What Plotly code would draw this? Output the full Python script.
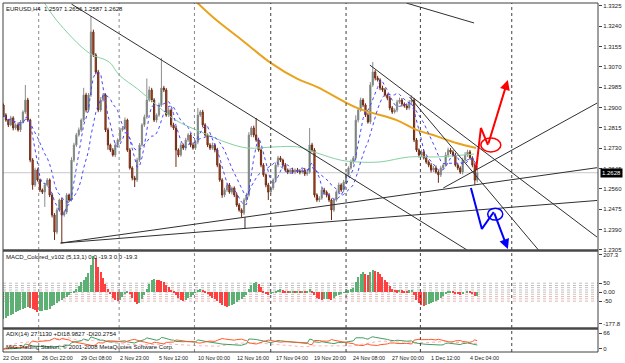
import numpy as np
import pandas as pd
import plotly.graph_objects as go

# ---------------- data ----------------
first_open = 1.2911
closes = [
1.2869,1.2848,1.2828,1.2857,1.2815,1.2828,1.2807,1.2840,1.2882,1.2932,
1.2848,1.2681,1.2577,1.2639,1.2598,1.2556,1.2547,1.2577,1.2598,1.2535,
1.2451,1.2380,1.2472,1.2514,1.2451,1.2464,1.2535,1.2514,1.2681,1.2744,
1.2786,1.2807,1.2848,1.2953,1.2890,1.2953,1.3216,1.3120,1.3049,1.2890,
1.2932,1.2953,1.2807,1.2744,1.2723,1.2702,1.2744,1.2765,1.2807,1.2815,
1.2848,1.2723,1.2648,1.2606,1.2598,1.2681,1.2744,1.2828,1.2861,1.2932,
1.2974,1.2932,1.2848,1.2869,1.2911,1.2982,1.2974,1.2869,1.2890,1.2828,
1.2815,1.2723,1.2702,1.2744,1.2731,1.2765,1.2786,1.2744,1.2731,1.2756,
1.2869,1.2882,1.2828,1.2786,1.2744,1.2731,1.2744,1.2723,1.2660,1.2598,
1.2535,1.2556,1.2577,1.2547,1.2564,1.2535,1.2493,1.2472,1.2460,1.2514,
1.2535,1.2786,1.2815,1.2786,1.2765,1.2723,1.2660,1.2619,1.2577,1.2547,
1.2564,1.2598,1.2660,1.2690,1.2681,1.2660,1.2639,1.2631,1.2639,1.2631,
1.2639,1.2635,1.2631,1.2639,1.2623,1.2631,1.2744,1.2723,1.2535,1.2514,
1.2522,1.2556,1.2547,1.2535,1.2514,1.2472,1.2514,1.2547,1.2577,1.2556,
1.2589,1.2619,1.2648,1.2673,1.2690,1.2848,1.2890,1.2932,1.2911,1.2869,
1.2840,1.2995,1.3049,1.3024,1.3016,1.2982,1.2974,1.2953,1.2940,1.2899,
1.2882,1.2890,1.2924,1.2932,1.2915,1.2907,1.2899,1.2924,1.2932,1.2765,
1.2723,1.2702,1.2715,1.2690,1.2673,1.2660,1.2639,1.2648,1.2631,1.2619,
1.2648,1.2660,1.2702,1.2723,1.2715,1.2702,1.2660,1.2648,1.2631,1.2681,
1.2702,1.2715,1.2690,1.2660,1.2597,1.2628]

upper_wick_pips = [
 6, 8, 5, 9, 7, 6,10, 8, 7,63,
 9, 6, 8,10, 7, 5, 6, 9, 8, 6,
 7, 8,10, 6, 9, 7, 8, 6,12, 9,
 8,10, 7,30, 9, 8,67,10, 8, 9,
12, 8, 7, 9, 6, 8,10, 7, 9, 8,
11, 6, 8, 7, 9,10, 8, 7,10,90,
15, 9, 8, 7,10,126,9, 8,12, 7,
 9, 8, 7,10, 6, 9, 8, 7,10, 9,
30, 8, 9, 7, 6, 8,10, 7, 9, 8,
 7, 9,10, 8, 6, 7, 9, 8, 7, 8,
 9,12, 8,10,71, 9, 7, 8, 6, 9,
 8, 7,10, 9, 8, 6, 9, 7, 8,10,
 7, 9, 8, 6, 9, 8,71, 9, 8, 7,
 8,10, 9, 7, 8, 6, 9, 8,10, 7,
 9, 8, 7,10, 8,20, 9,10, 8, 7,
 9,12,42, 8, 9, 7,10, 8, 6, 9,
 8, 7, 9,10, 8, 7, 9, 8,20, 9,
 8, 7,10, 9, 8, 7, 9, 8,10, 7,
 9, 8,12,10, 8, 7, 9, 8, 7,10,
12, 9, 8, 7, 9,28]

lower_wick_pips = [
 8, 7, 9, 6,10, 8, 7, 9, 6, 8,
 7, 9,20, 8, 7, 9, 8,62, 7, 9,
10,33, 9, 8,117,7, 9, 8, 6, 9,
 8, 7, 9, 8,10, 7, 9, 8,10, 9,
 8, 7, 9,20, 8, 7, 9,10, 8, 7,
 9, 8, 7,10,30, 9, 8, 7, 9, 8,
 7, 9, 8,10, 7, 8, 9, 7, 8,10,
 8,71, 9, 7, 8,10, 8, 9, 7, 8,
 9, 8,10, 7, 9, 8, 7,10, 9, 8,
12, 9, 8, 7,10, 9, 8, 7,17, 9,
 8, 7, 9,10, 8, 7, 9, 8,10,33,
 9, 8, 7, 9, 8,10, 7, 9, 8, 7,
 9, 8,10, 7, 9, 8, 7, 9,10, 8,
 9, 7, 8,10, 9,42, 8, 7, 9, 8,
10, 9, 8, 7, 9, 8,10, 7, 9, 8,
 7, 9, 8,10, 7, 9, 8, 7, 9,10,
 8, 7, 9, 8,10, 7, 9, 8, 7, 9,
 8,10, 9, 7, 8, 9,10, 8, 7,33,
 9, 8, 7,10, 9, 8, 7, 9, 8,10,
 9, 8, 7, 9,20,10]

macd_hist = [
-150,-142,-135,-128,-120,-112,-106,-100,-95,-90,
-85,-88,-92,-100,-110,-108,-105,-102,-100,-92,
-80,-70,-60,-50,-42,-34,-25,-14,-4,8,
20,35,55,70,82,105,150,200,190,140,
110,80,45,15,-10,-30,-45,-50,-42,-25,
-8,8,-10,-35,-55,-68,-60,-40,-15,15,
45,70,75,70,66,62,55,42,28,12,
2,-15,-32,-45,-50,-44,-35,-28,-15,-2,
12,20,14,3,-12,-22,-30,-38,-48,-60,
-70,-78,-85,-80,-72,-64,-55,-46,-38,-28,
-14,15,38,50,55,46,28,8,-6,-14,
-10,-4,6,14,16,11,6,2,5,9,
7,9,5,8,4,9,16,8,-14,-30,
-40,-45,-41,-36,-40,-46,-32,-22,-15,-10,
-4,4,10,15,24,58,84,102,110,100,
94,114,125,120,110,99,85,70,55,36,
20,12,10,13,10,8,6,10,12,-18,
-44,-60,-70,-75,-70,-65,-60,-55,-50,-44,
-30,-19,-5,5,6,4,-5,-10,-15,-6,
0,5,1,-9,-21,-19.3]

# long moving averages (bar index, price)
ma_orange_bars = [79.4, 87.6, 98.6, 110.0, 121.0, 129.2, 145.5, 161.8, 170.0, 178.2, 186.4, 194.5]
ma_orange_vals = [1.3342, 1.3266, 1.3179, 1.3087, 1.3020, 1.2986, 1.2899, 1.2848, 1.2807, 1.2781, 1.2752, 1.2731]
ma_green_bars = [16.1, 21.8, 35.3, 43.5, 47.6, 55.7, 63.9, 70.8, 81.4, 92.4, 100.6, 111.6, 121.0,
                 129.2, 138.6, 145.5, 154.9, 167.1, 178.2, 193.7]
ma_green_vals = [1.3350, 1.3266, 1.3128, 1.3091, 1.3037, 1.2974, 1.2903, 1.2848, 1.2798, 1.2752,
                 1.2731, 1.2736, 1.2736, 1.2710, 1.2681, 1.2673, 1.2673, 1.2694, 1.2694, 1.2706]

# hand-drawn trend lines (bar, price) pairs
trend_lines = [
    ((23.5, 1.2334), (244.3, 1.2649)),
    ((23.5, 1.2334), (244.3, 1.2512)),
    ((181.0, 1.2564), (244.3, 1.2919)),
    ((150.8, 1.3078), (244.3, 1.2359)),
    ((167.1, 1.2945), (220.2, 1.2305)),
    ((28.0, 1.3333), (190.8, 1.2305)),
    ((165.9, 1.3337), (193.7, 1.3254)),
    ((99.4, 1.2443), (99.4, 1.2393)),
]
red_path_bars = [194.5, 196.5, 199.4, 207.6]
red_path_vals = [1.2639, 1.2815, 1.2744, 1.3016]
red_ring = (200.6, 1.2744, 4.1, 0.0029)
blue_path_bars = [192.4, 196.9, 201.8, 207.6]
blue_path_vals = [1.2564, 1.2393, 1.2464, 1.2309]
blue_ring = (202.4, 1.2455, 3.1, 0.0025)

separator_bars = [14.5, 47.6, 78.6, 110.0, 141.0, 171.6, 209.2]
time_label_bars = [0, 16, 32, 48, 64, 80, 96, 112, 128, 144, 160, 176, 192]
time_labels = ["22 Oct 2008", "26 Oct 22:00", "29 Oct 08:00", "2 Nov 23:00", "5 Nov 12:00",
               "10 Nov 00:00", "12 Nov 16:00", "17 Nov 04:00", "19 Nov 20:00", "24 Nov 08:00",
               "27 Nov 00:00", "1 Dec 12:00", "4 Dec 04:00"]
price_ticks = [1.3325, 1.3240, 1.3155, 1.3070, 1.2985, 1.2900, 1.2815, 1.2730, 1.2645,
               1.2560, 1.2475, 1.2390, 1.2305]
macd_levels = [50, 37, 25, 12, 0, -12, -25, -37, -50]
macd_labels_at = [207.3, 50, 0, -50, -177.8]
macd_labels = ["207.3", "50", "0.00", "-50", "-177.8"]
bid = 1.2628

# ---------------- derived ----------------
n = min(len(closes), len(upper_wick_pips), len(lower_wick_pips), len(macd_hist))
c = np.array(closes[:n])
o = np.concatenate([[first_open], c[:-1]])
h = np.maximum(o, c) + np.array(upper_wick_pips[:n]) / 10000.0
l = np.minimum(o, c) - np.array(lower_wick_pips[:n]) / 10000.0
bars = np.arange(n)
s = pd.Series(c)
sma_fast = s.rolling(5, min_periods=1).mean()
sma_slow = s.rolling(12, min_periods=1).mean()

# ADX(14)
hs, ls, cs = pd.Series(h), pd.Series(l), pd.Series(c)
pc = cs.shift(1).fillna(cs.iloc[0])
tr = pd.concat([hs - ls, (hs - pc).abs(), (ls - pc).abs()], axis=1).max(axis=1)
up = hs.diff().fillna(0)
dn = (-ls.diff()).fillna(0)
pdm = np.where((up > dn) & (up > 0), up, 0.0)
ndm = np.where((dn > up) & (dn > 0), dn, 0.0)
a = 1 / 14
atr = tr.ewm(alpha=a, adjust=False).mean()
pdi = 100 * pd.Series(pdm).ewm(alpha=a, adjust=False).mean() / atr
ndi = 100 * pd.Series(ndm).ewm(alpha=a, adjust=False).mean() / atr
dx = 100 * (pdi - ndi).abs() / (pdi + ndi).replace(0, np.nan)
adx = dx.fillna(0).ewm(alpha=a, adjust=False).mean()

mh = np.array(macd_hist[:n], dtype=float)
mcol = ["#5cb074" if (i == 0 or mh[i] >= mh[i - 1]) else "#ff4040" for i in range(n)]

FONT = "Liberation Sans, Arial"
XR = [-0.2, 244.7]

fig = go.Figure()
fig.add_trace(go.Candlestick(
    x=bars, open=o, high=h, low=l, close=c, xaxis="x", yaxis="y",
    increasing=dict(line=dict(color="#8c8c8c", width=1), fillcolor="#2a6a44"),
    decreasing=dict(line=dict(color="#6e2a12", width=1), fillcolor="#d4542a"),
    whiskerwidth=0, hoverinfo="skip", showlegend=False))
fig.add_trace(go.Scatter(x=ma_green_bars, y=ma_green_vals, mode="lines", line=dict(color="#86d0a4", width=1, shape="spline"),
                         xaxis="x", yaxis="y", showlegend=False, hoverinfo="skip"))
fig.add_trace(go.Scatter(x=ma_orange_bars, y=ma_orange_vals, mode="lines", line=dict(color="#e8a21c", width=2, shape="spline"),
                         xaxis="x", yaxis="y", showlegend=False, hoverinfo="skip"))
for ser in (sma_fast, sma_slow):
    fig.add_trace(go.Scatter(x=bars, y=ser, mode="lines", line=dict(color="#4646ff", width=1, dash="dot"),
                             xaxis="x", yaxis="y", showlegend=False, hoverinfo="skip"))
fig.add_trace(go.Scatter(x=red_path_bars[:3], y=red_path_vals[:3], mode="lines", line=dict(color="#ff0000", width=2),
                         xaxis="x", yaxis="y", showlegend=False, hoverinfo="skip"))
fig.add_trace(go.Scatter(x=blue_path_bars[:3], y=blue_path_vals[:3], mode="lines", line=dict(color="#0000ff", width=2),
                         xaxis="x", yaxis="y", showlegend=False, hoverinfo="skip"))

fig.add_trace(go.Bar(x=bars, y=mh, marker=dict(color=mcol, line=dict(width=0)), width=0.45,
                     xaxis="x2", yaxis="y2", showlegend=False, hoverinfo="skip"))

fig.add_trace(go.Scatter(x=bars, y=adx, mode="lines", line=dict(color="#ffb0b0", width=1, dash="dot"),
                         xaxis="x3", yaxis="y3", showlegend=False, hoverinfo="skip"))
fig.add_trace(go.Scatter(x=bars, y=pdi, mode="lines", line=dict(color="#3f9f5f", width=1),
                         xaxis="x3", yaxis="y3", showlegend=False, hoverinfo="skip"))
fig.add_trace(go.Scatter(x=bars, y=ndi, mode="lines", line=dict(color="#ff5a2a", width=1),
                         xaxis="x3", yaxis="y3", showlegend=False, hoverinfo="skip"))

shapes = []
shapes.append(dict(type="line", xref="x domain", yref="y", x0=0, x1=1, y0=bid, y1=bid,
                   line=dict(color="#c8c8c8", width=1), layer="below"))
for k, b in enumerate(separator_bars):
    col = "#8a8a8a" if k < 3 else "#404040"
    shapes.append(dict(type="line", xref="x", yref="paper", x0=b, x1=b, y0=0, y1=1,
                       line=dict(color=col, width=1, dash="dot")))
for (p0, p1) in trend_lines:
    shapes.append(dict(type="line", xref="x", yref="y", x0=p0[0], y0=p0[1], x1=p1[0], y1=p1[1],
                       line=dict(color="#303030", width=1)))
for ring, col in ((red_ring, "#ff0000"), (blue_ring, "#0000ff")):
    cx, cy, rx, ry = ring
    shapes.append(dict(type="circle", xref="x", yref="y", x0=cx - rx, x1=cx + rx, y0=cy - ry, y1=cy + ry,
                       line=dict(color=col, width=1.5)))
for lv in macd_levels:
    shapes.append(dict(type="line", xref="x2 domain", yref="y2", x0=0, x1=1, y0=lv, y1=lv,
                       line=dict(color="#c0c0c0" if lv >= 0 else "#e0b8b8", width=1, dash="dot"), layer="below"))
shapes.append(dict(type="rect", xref="paper", yref="paper", x0=0, x1=1, y0=0, y1=1,
                   line=dict(color="#404040", width=1)))
for yy in (0.2908, 0.0673):
    shapes.append(dict(type="line", xref="paper", yref="paper", x0=0, x1=1, y0=yy, y1=yy,
                       line=dict(color="#484848", width=2.5)))

ann = []
for b, t in zip(time_label_bars, time_labels):
    ann.append(dict(x=b, xref="x3", y=-0.017, yref="paper", text=t, showarrow=False, xanchor="left",
                    yanchor="middle", xshift=-2, font=dict(family=FONT, size=5.4, color="#202020")))
ann.append(dict(x=0, xref="paper", y=1, yref="paper", text="EURUSD,H4  1.2597 1.2656 1.2587 1.2628",
                showarrow=False, xanchor="left", yanchor="top", xshift=1, yshift=-1,
                font=dict(family=FONT, size=6, color="#101010")))
ann.append(dict(x=0, xref="paper", y=0.2894, yref="paper", text="MACD_Colored_v102 (5,13,1) 0.0 -19.3 0.0 -19.3",
                showarrow=False, xanchor="left", yanchor="top", xshift=1, yshift=-1,
                font=dict(family=FONT, size=6, color="#101010")))
ann.append(dict(x=0, xref="paper", y=0.0659, yref="paper", text="ADX(14) 27.1130 +DI18.9827 -DI20.2754",
                showarrow=False, xanchor="left", yanchor="top", xshift=1, yshift=0,
                font=dict(family=FONT, size=6, color="#101010")))
ann.append(dict(x=0, xref="paper", y=0.0152, yref="paper",
                text="MIG Trading Station, © 2001-2008 MetaQuotes Software Corp.",
                showarrow=False, xanchor="left", yanchor="middle", xshift=1,
                font=dict(family=FONT, size=6, color="#101010")))
ann.append(dict(x=1, xref="paper", y=bid, yref="y", text="1.2628", showarrow=False, xanchor="left",
                yanchor="middle", xshift=2, bgcolor="#000000", borderpad=1,
                font=dict(family=FONT, size=6, color="#ffffff")))
for pb, pv, col in ((red_path_bars, red_path_vals, "#ff0000"), (blue_path_bars, blue_path_vals, "#0000ff")):
    ann.append(dict(x=pb[3], y=pv[3], xref="x", yref="y", ax=pb[2], ay=pv[2], axref="x", ayref="y",
                    text="", showarrow=True, arrowhead=2, arrowsize=1, arrowwidth=2, arrowcolor=col))

tickfont = dict(family=FONT, size=6, color="#202020")
fig.update_layout(
    width=625, height=363, margin=dict(l=3, r=22, t=3, b=11),
    paper_bgcolor="white", plot_bgcolor="white", showlegend=False,
    bargap=0, shapes=shapes, annotations=ann,
    xaxis=dict(domain=[0, 1], range=XR, anchor="y", showticklabels=False, showgrid=False,
               zeroline=False, rangeslider=dict(visible=False), fixedrange=True),
    yaxis=dict(domain=[0.2923, 1], range=[1.2305, 1.33375], side="right", anchor="x",
               tickvals=price_ticks, ticktext=["%.4f" % v for v in price_ticks], ticks="outside",
               ticklen=3, tickcolor="#404040", tickfont=tickfont, showgrid=False, zeroline=False),
    xaxis2=dict(domain=[0, 1], range=XR, anchor="y2", matches="x", showticklabels=False,
                showgrid=False, zeroline=False),
    yaxis2=dict(domain=[0.0688, 0.2894], range=[-200.1, 229.6], side="right", anchor="x2",
                tickvals=macd_labels_at, ticktext=macd_labels,
                ticks="outside", ticklen=3, tickcolor="#404040", tickfont=tickfont,
                showgrid=False, zeroline=False),
    xaxis3=dict(domain=[0, 1], range=XR, anchor="y3", matches="x", showticklabels=False,
                showgrid=False, zeroline=False),
    yaxis3=dict(domain=[0, 0.0659], range=[-12.4, 82.5], side="right", anchor="x3",
                tickvals=[66, 0], ticktext=["66", "0"], ticks="outside", ticklen=3,
                tickcolor="#404040", tickfont=tickfont, showgrid=False, zeroline=False),
)
fig.write_html("out.html")
